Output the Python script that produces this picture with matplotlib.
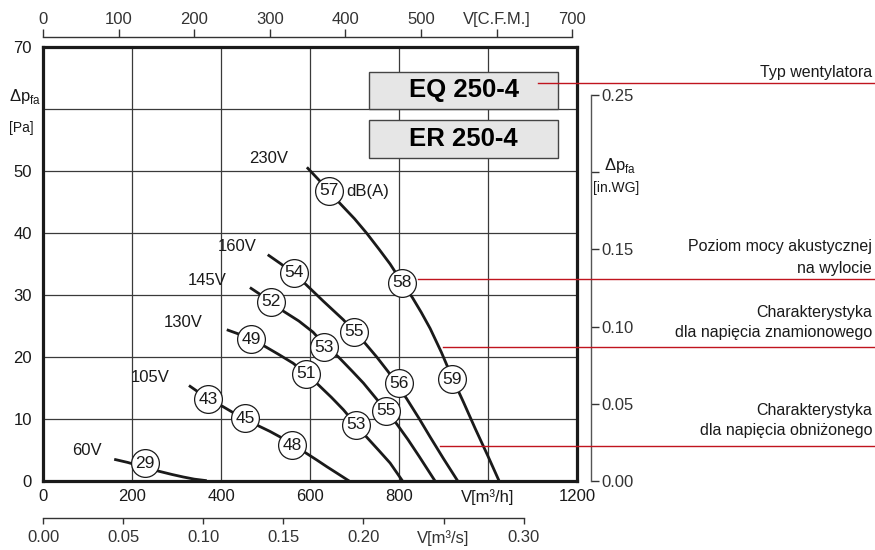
import matplotlib.pyplot as plt
from matplotlib.patches import Rectangle
from matplotlib.lines import Line2D

plt.rcParams['font.family'] = ['Liberation Sans', 'DejaVu Sans']
plt.rcParams['mathtext.fontset'] = 'custom'
plt.rcParams['mathtext.rm'] = 'Liberation Sans'

W, H = 875, 550


def fx(px):
    return px / W


def fy(py):
    return 1 - py / H


# charakterystyki wentylatora: V [m3/h], dp [Pa]
v230_x = [593, 643, 667, 700, 727, 755, 780, 806, 830, 850, 870, 895, 920, 945, 971, 1000, 1025]
v230_y = [50.6, 46.8, 44.8, 42.3, 40.0, 37.4, 35.0, 32.1, 29.6, 27.2, 24.6, 20.8, 16.6, 12.7, 8.5, 4.0, 0]
v160_x = [505, 535, 563, 585, 630, 675, 699, 724, 750, 776, 801, 817, 845, 870, 900, 932]
v160_y = [36.5, 35.0, 33.5, 32.1, 29.0, 26.0, 24.1, 22.2, 20.0, 17.6, 15.0, 13.3, 10.1, 7.1, 3.6, 0]
v145_x = [465, 490, 512, 540, 575, 607, 632, 664, 695, 720, 751, 771, 795, 820, 845, 881]
v145_y = [31.2, 30.0, 28.9, 27.4, 25.8, 24.0, 22.0, 20.0, 17.7, 15.8, 13.1, 11.3, 9.2, 6.7, 4.0, 0]
v130_x = [413, 440, 467, 499, 530, 562, 591, 619, 648, 675, 703, 727, 755, 780, 808]
v130_y = [24.4, 23.7, 22.9, 21.7, 20.4, 19.0, 17.3, 15.5, 13.5, 11.5, 9.1, 7.1, 4.9, 2.9, 0]
v105_x = [328, 350, 372, 402, 428, 456, 484, 510, 533, 560, 589, 615, 638, 662, 688]
v105_y = [15.4, 14.3, 13.2, 12.1, 11.0, 10.0, 8.9, 8.0, 7.1, 5.9, 4.6, 3.4, 2.3, 1.2, 0]
v60_x = [160, 190, 229, 259, 290, 315, 340, 368]
v60_y = [3.5, 3.0, 2.2, 1.6, 1.05, 0.65, 0.3, 0.05]

curves = [(v230_x, v230_y), (v160_x, v160_y), (v145_x, v145_y),
          (v130_x, v130_y), (v105_x, v105_y), (v60_x, v60_y)]

# napiecia - opisy krzywych
volt_labels = ['230V', '160V', '145V', '130V', '105V', '60V']
volt_lx = [508, 436, 369, 315, 241, 99]
volt_ly = [52.0, 37.9, 32.4, 25.6, 16.7, 4.9]

# poziom mocy akustycznej dB(A)
db_val = [57, 58, 59, 54, 55, 56, 52, 53, 55, 49, 51, 53, 43, 45, 48, 29]
db_x = [643, 806, 920, 563, 698, 801, 512, 632, 771, 467, 591, 703, 371, 455, 560, 229]
db_y = [46.8, 32.0, 16.4, 33.6, 24.1, 15.8, 28.9, 21.6, 11.3, 22.9, 17.3, 9.1, 13.2, 10.1, 5.8, 2.85]

x_ticks = [0, 200, 400, 600, 800, 1000, 1200]
x_labels = ['0', '200', '400', '600', '800', 'V[m³/h]', '1200']
y_ticks = [0, 10, 20, 30, 40, 50, 60, 70]
y_labels = ['0', '10', '20', '30', '40', '50', '', '70']
cfm_ticks = [0, 100, 200, 300, 400, 500, 600, 700]
cfm_labels = ['0', '100', '200', '300', '400', '500', 'V[C.F.M.]', '700']
m3s_ticks = [0, 0.05, 0.10, 0.15, 0.20, 0.25, 0.30]
m3s_labels = ['0.00', '0.05', '0.10', '0.15', '0.20', 'V[m³/s]', '0.30']
inwg_ticks = [0, 0.05, 0.10, 0.15, 0.20, 0.25]
inwg_labels = ['0.00', '0.05', '0.10', '0.15', '', '0.25']

dark = '#1a1a1a'
red = '#c0141e'

fig = plt.figure(figsize=(8.75, 5.5), dpi=100)
ax = fig.add_axes([fx(43), fy(481), fx(577) - fx(43), fy(47) - fy(481)])
ax.set_xlim(0, 1200)
ax.set_ylim(0, 70)
ax.set_xticks(x_ticks)
ax.set_xticklabels(x_labels)
ax.set_yticks(y_ticks)
ax.set_yticklabels(y_labels)
ax.tick_params(length=0, labelsize=12, colors=dark)
ax.tick_params(axis='x', pad=6)
ax.tick_params(axis='y', pad=8)
ax.grid(True, color='#3a3a3a', linewidth=0.9)
for s in ax.spines.values():
    s.set_linewidth(2.3)
    s.set_color(dark)
    s.set_zorder(6)

for cx, cy in curves:
    ax.plot(cx, cy, color=dark, linewidth=2.0, zorder=3, solid_capstyle='butt')

ax.scatter(db_x, db_y, s=400, facecolor='white', edgecolor=dark, linewidth=0.9, zorder=4)
for v, x, y in zip(db_val, db_x, db_y):
    ax.text(x, y, str(v), fontsize=12.5, ha='center', va='center', color=dark, zorder=5)
ax.text(681, 46.7, 'dB(A)', fontsize=12, ha='left', va='center', color=dark, zorder=5)

for lab, x, y in zip(volt_labels, volt_lx, volt_ly):
    ax.text(x, y, lab, fontsize=12, ha='center', va='center', color=dark, zorder=5)

# typ wentylatora
ax.add_patch(Rectangle((733, 60.0), 424, 6.0, facecolor='#e6e6e6', edgecolor='#444444', linewidth=1.0, zorder=5))
ax.add_patch(Rectangle((733, 52.1), 424, 6.1, facecolor='#e6e6e6', edgecolor='#444444', linewidth=1.0, zorder=5))
ax.text(945, 63.0, 'EQ 250-4', fontsize=18.5, fontweight='bold', ha='center', va='center', color='black', zorder=6)
ax.text(945, 55.15, 'ER 250-4', fontsize=18.5, fontweight='bold', ha='center', va='center', color='black', zorder=6)

# osie dodatkowe
top = ax.secondary_xaxis(1.023, functions=(lambda v: v / 1.699, lambda v: v * 1.699))
top.set_xticks(cfm_ticks)
top.set_xticklabels(cfm_labels)
top.tick_params(direction='out', length=6, width=1, colors='#333333', labelsize=12, pad=1.5)
top.spines['top'].set_bounds(0, 700)
top.spines['top'].set_color('#333333')
top.spines['top'].set_linewidth(1)

bot = ax.secondary_xaxis(-0.085, functions=(lambda v: v / 3600, lambda v: v * 3600))
bot.set_xticks(m3s_ticks)
bot.set_xticklabels(m3s_labels)
bot.tick_params(direction='out', length=4.5, width=1, colors='#333333', labelsize=12, pad=4)
bot.spines['bottom'].set_bounds(0, 0.30)
bot.spines['bottom'].set_color('#333333')
bot.spines['bottom'].set_linewidth(1)

rgt = ax.secondary_yaxis(1.026, functions=(lambda v: v / 249.089, lambda v: v * 249.089))
rgt.set_yticks(inwg_ticks)
rgt.set_yticklabels(inwg_labels)
rgt.tick_params(direction='out', length=6, width=1, colors='#333333', labelsize=12, pad=1.5)
rgt.spines['right'].set_bounds(0, 0.25)
rgt.spines['right'].set_color('#555555')
rgt.spines['right'].set_linewidth(1)

# opisy osi cisnienia
fig.text(fx(25), fy(97), 'Δp$_{\\mathrm{fa}}$', fontsize=12, ha='center', va='center', color=dark)
fig.text(fx(21), fy(128), '[Pa]', fontsize=10, ha='center', va='center', color=dark)
fig.text(fx(620), fy(166), 'Δp$_{\\mathrm{fa}}$', fontsize=12, ha='center', va='center', color=dark)
fig.text(fx(616), fy(188), '[in.WG]', fontsize=10, ha='center', va='center', color=dark)

# objasnienia po prawej
notes = [
    (538, 83, ['Typ wentylatora'], [73]),
    (418, 279, ['Poziom mocy akustycznej', 'na wylocie'], [247, 268]),
    (443, 347, ['Charakterystyka', 'dla napięcia znamionowego'], [312, 333]),
    (440, 446, ['Charakterystyka', 'dla napięcia obniżonego'], [410, 430]),
]
for x0, yl, lines, ys in notes:
    fig.add_artist(Line2D([fx(x0), fx(875)], [fy(yl), fy(yl)], color=red, linewidth=1.0, zorder=10))
    for t, yt in zip(lines, ys):
        fig.text(fx(872), fy(yt), t, fontsize=11.5, ha='right', va='center', color=dark)

fig.savefig('out.png', dpi=100)
